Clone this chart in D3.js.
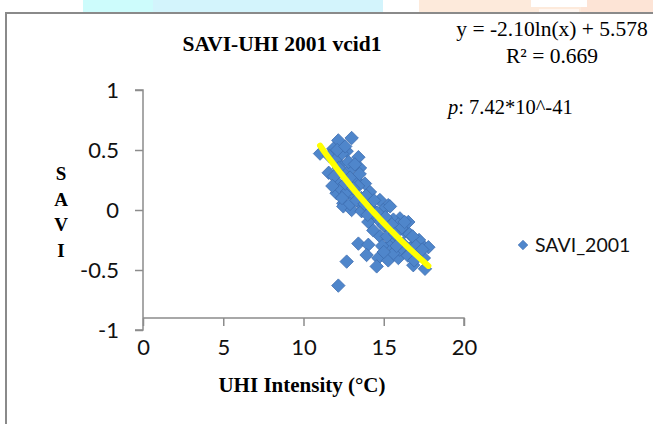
<!DOCTYPE html>
<html>
<head>
<meta charset="utf-8">
<script src="https://cdn.jsdelivr.net/npm/d3@7"></script>
<style>
  html, body { margin: 0; padding: 0; background: #fff; }
  svg { display: block; }
</style>
</head>
<body>
<svg id="chart" width="653" height="424"></svg>
<script>
// UHI intensity (°C) for each sample
const uhi = [
  13.0, 12.17, 11.03, 11.86, 12.69, 13.42, 11.57, 12.27, 13.0, 13.52,
  12.17, 13.3, 13.83, 12.06, 12.48, 13.0, 14.14, 14.76, 15.28, 13.62,
  12.48, 13.0, 13.62, 14.97, 15.39, 14.04, 14.35, 16.01, 16.53, 15.39,
  16.32, 14.77, 13.42, 14.04, 15.39, 15.8, 17.37, 17.78, 16.94, 13.93,
  14.66, 14.56, 15.28, 15.91, 16.84, 17.57, 16.42, 12.69, 12.17,
  11.6, 12.0, 12.4, 12.8, 12.5, 11.9, 12.9, 13.2, 12.3, 12.7,
  13.4, 13.6, 11.8, 14.2, 14.5, 14.8, 15.0, 15.6, 15.9, 14.3,
  16.2, 16.7, 17.1, 17.5, 16.0, 15.6, 17.2, 16.6, 16.1, 14.9,
  12.1, 12.6, 12.2, 12.6, 13.1, 12.9, 13.3, 13.8, 13.9, 14.4,
  14.0, 14.6, 15.1, 15.5, 15.2, 15.7, 16.3, 16.8, 17.0, 17.4,
  16.5, 15.8, 15.0, 16.9, 13.5, 12.4
];
// SAVI for the same samples
const savi = [
  0.60, 0.58, 0.47, 0.51, 0.49, 0.44, 0.31, 0.375, 0.35, 0.35,
  0.22, 0.25, 0.22, 0.14, 0.056, 0.125, 0.15, 0.083, 0.04, 0.04,
  0.03, 0.0, -0.01, 0.0, 0.03, -0.10, -0.17, -0.07, -0.10, -0.17,
  -0.18, -0.22, -0.28, -0.29, -0.29, -0.25, -0.29, -0.31, -0.28, -0.375,
  -0.40, -0.47, -0.42, -0.40, -0.46, -0.49, -0.35, -0.43, -0.63,
  0.45, 0.42, 0.47, 0.40, 0.30, 0.28, 0.27, 0.38, 0.18, 0.15,
  0.20, 0.10, 0.20, 0.02, -0.05, -0.10, -0.13, -0.08, -0.12, -0.02,
  -0.28, -0.32, -0.36, -0.40, -0.33, -0.36, -0.25, -0.20, -0.15, -0.30,
  0.50, 0.53, 0.35, 0.22, 0.18, 0.05, 0.08, 0.05, 0.12, 0.08,
  -0.04, -0.02, -0.06, -0.12, -0.22, -0.20, -0.10, -0.22, -0.30, -0.33,
  -0.38, -0.30, -0.35, -0.42, 0.30, 0.10
];
const xTicks = [0, 5, 10, 15, 20];
const yTicks = [1, 0.5, 0, -0.5, -1];
const seriesName = "SAVI_2001";
const titleText = "SAVI-UHI 2001 vcid1";
const xTitle = "UHI Intensity (°C)";
const yTitleLetters = ["S", "A", "V", "I"];
// logarithmic fit y = a ln(x) + b
const fitA = -2.10, fitB = 5.578;
const r2Text = "0.669";
const pText = "7.42*10^-41";

const svg = d3.select("#chart");
const serif = "'Liberation Serif', 'Times New Roman', serif";
const sans = "Lato, 'Noto Sans', sans-serif";

// faint page decoration strips above the chart frame
svg.append("rect").attr("x", 83).attr("y", 0).attr("width", 300).attr("height", 12).attr("fill", "#d3f4fc");
svg.append("rect").attr("x", 83).attr("y", 0).attr("width", 70).attr("height", 12).attr("fill", "#cdfcfc");
svg.append("rect").attr("x", 419).attr("y", 0).attr("width", 234).attr("height", 12).attr("fill", "#fdeadb");
svg.append("rect").attr("x", 581).attr("y", 0).attr("width", 72).attr("height", 12).attr("fill", "#fde4d6");
svg.append("rect").attr("x", 531).attr("y", 0).attr("width", 56).attr("height", 7).attr("fill", "#ffffff");
svg.append("rect").attr("x", 539).attr("y", 9).attr("width", 40).attr("height", 3).attr("fill", "#fff6f0");

// chart frame
svg.append("rect")
  .attr("x", 6).attr("y", 13).attr("width", 660).attr("height", 430)
  .attr("fill", "#fff").attr("stroke", "#8a8a8a").attr("stroke-width", 2);

const x = d3.scaleLinear().domain([0, 20]).range([143, 464]);
const y = d3.scaleLinear().domain([-1, 1]).range([330, 90]);
const xAxisAt = -0.9;

const axisColor = "#8c8c8c";

// y axis
const yAxis = svg.append("g")
  .attr("transform", `translate(${x(0)},0)`)
  .call(d3.axisLeft(y).tickValues(yTicks).tickSize(8).tickPadding(16).tickFormat(d => String(d)));
yAxis.select(".domain").attr("d", `M-8,${y(1)}H0V${y(-1)}H-8`);
// x axis
const xAxis = svg.append("g")
  .attr("transform", `translate(0,${y(xAxisAt)})`)
  .call(d3.axisBottom(x).tickValues(xTicks).tickSize(8).tickPadding(13).tickFormat(d => String(d)));
xAxis.select(".domain").attr("d", `M${x(0)},0H${x(20)}V8`);

[xAxis, yAxis].forEach(g => {
  g.select(".domain").attr("stroke", axisColor).attr("stroke-width", 1.5).attr("fill", "none");
  g.selectAll(".tick line").attr("stroke", axisColor).attr("stroke-width", 1.5);
  g.selectAll(".tick text").attr("fill", "#111").style("font-family", sans).style("font-size", "22px");
});

// scatter markers
const diamond = d3.symbol().type(d3.symbolDiamond2).size(115);
svg.append("g").selectAll("path")
  .data(uhi.map((u, i) => [u, savi[i]]))
  .join("path")
  .attr("d", diamond)
  .attr("transform", d => `translate(${x(d[0])},${y(d[1])})`)
  .attr("fill", "#4f86cb")
  .attr("stroke", "#3d6db0")
  .attr("stroke-width", 0.8);

// fitted trend line over the data range
const xMin = d3.min(uhi), xMax = d3.max(uhi);
const fitPts = d3.range(0, 41).map(i => {
  const u = xMin + (xMax - xMin) * i / 40;
  return [u, fitA * Math.log(u) + fitB];
});
svg.append("path")
  .datum(fitPts)
  .attr("d", d3.line().x(d => x(d[0])).y(d => y(d[1])))
  .attr("fill", "none")
  .attr("stroke", "#ffff00")
  .attr("stroke-width", 6)
  .attr("stroke-linecap", "round");

// title
svg.append("text").attr("x", 282).attr("y", 51).attr("text-anchor", "middle")
  .style("font-family", serif).style("font-size", "21.5px").style("font-weight", "bold")
  .text(titleText);

// equation block
svg.append("text").attr("x", 552).attr("y", 36).attr("text-anchor", "middle")
  .style("font-family", serif).style("font-size", "21.5px")
  .text(`y = ${fitA.toFixed(2)}ln(x) + ${fitB}`);
svg.append("text").attr("x", 552).attr("y", 63).attr("text-anchor", "middle")
  .style("font-family", serif).style("font-size", "21.5px")
  .text(`R² = ${r2Text}`);
const pLine = svg.append("text").attr("x", 448).attr("y", 114)
  .style("font-family", serif).style("font-size", "20.5px");
pLine.append("tspan").style("font-style", "italic").text("p");
pLine.append("tspan").text(`: ${pText}`);

// axis titles
svg.append("text").attr("x", 302).attr("y", 392).attr("text-anchor", "middle")
  .style("font-family", serif).style("font-size", "21px").style("font-weight", "bold")
  .text(xTitle);
const yTitle = svg.append("text")
  .style("font-family", serif).style("font-size", "19px").style("font-weight", "bold")
  .attr("text-anchor", "middle");
yTitleLetters.forEach((ch, i) => {
  yTitle.append("tspan").attr("x", 61).attr("y", 180 + i * 25.5).text(ch);
});

// legend
const legend = svg.append("g").attr("transform", "translate(523,245)");
legend.append("path").attr("d", d3.symbol().type(d3.symbolDiamond2).size(60))
  .attr("fill", "#4f86cb").attr("stroke", "#3d6db0").attr("stroke-width", 0.6);
legend.append("text").attr("x", 12).attr("y", 7)
  .style("font-family", sans).style("font-size", "19.5px").attr("fill", "#111")
  .text(seriesName);
</script>
</body>
</html>
